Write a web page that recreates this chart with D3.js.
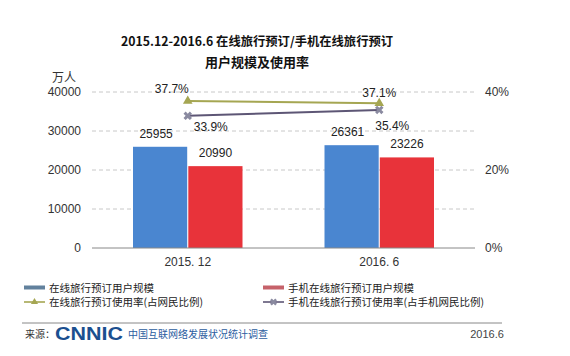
<!DOCTYPE html>
<html><head><meta charset="utf-8">
<script src="https://cdn.jsdelivr.net/npm/d3@7/dist/d3.min.js"></script>
<style>body{margin:0;background:#fff}svg{display:block}</style>
</head><body>
<script>
const categories = ["2015. 12", "2016. 6"];
const onlineUsers = [25955, 26361];
const mobileUsers = [20990, 23226];
const onlineRate = [37.7, 37.1];
const mobileRate = [33.9, 35.4];
const leftTicks = [0, 10000, 20000, 30000, 40000];
const rightTicks = [0, 20, 40];
const seriesNames = ["在线旅行预订用户规模", "手机在线旅行预订用户规模", "在线旅行预订使用率(占网民比例)", "手机在线旅行预订使用率(占手机网民比例)"];

const W = 570, H = 356;
const svg = d3.select("body").append("svg").attr("width", W).attr("height", H);
const font = "'Liberation Sans', Arial, sans-serif";
const cjk = "'Noto Sans CJK SC', sans-serif";

const x0 = 92, x1 = 475, yTop = 92, yBot = 248;
const x = d3.scaleBand().domain(categories).range([x0, x1]);
const xs = d3.scaleBand().domain([0, 1]).range([41, 150.5]).paddingInner(0.02);
const y = d3.scaleLinear().domain([0, 40000]).range([yBot, yTop]);
const yr = d3.scaleLinear().domain([0, 40]).range([yBot, yTop]);

// title
svg.append("text").attr("x", 257).attr("y", 46).attr("text-anchor", "middle")
  .attr("font-family", cjk).attr("font-weight", "bold").attr("font-size", 12.3).attr("fill", "#111")
  .text("2015.12-2016.6 在线旅行预订/手机在线旅行预订");
svg.append("text").attr("x", 257).attr("y", 67).attr("text-anchor", "middle")
  .attr("font-family", cjk).attr("font-weight", "bold").attr("font-size", 13).attr("fill", "#111")
  .text("用户规模及使用率");

// grid
svg.append("g").selectAll("line").data(leftTicks.filter(d => d > 0)).join("line")
  .attr("x1", x0).attr("x2", x1).attr("y1", d => y(d)).attr("y2", d => y(d))
  .attr("stroke", "#c8c8c8").attr("stroke-dasharray", "4,3");

// left axis
const la = svg.append("g").attr("transform", `translate(${x0},0)`)
  .call(d3.axisLeft(y).tickValues(leftTicks).tickSize(0).tickPadding(11).tickFormat(d3.format("d")));
la.select(".domain").remove();
la.selectAll("text").attr("font-family", font).attr("font-size", 12).attr("fill", "#333");
svg.append("text").attr("x", 64).attr("y", 82).attr("text-anchor", "middle")
  .attr("font-family", cjk).attr("font-size", 12).attr("fill", "#333").text("万人");

// right axis
const ra = svg.append("g").attr("transform", `translate(${x1},0)`)
  .call(d3.axisRight(yr).tickValues(rightTicks).tickSize(0).tickPadding(10).tickFormat(d => d + "%"));
ra.select(".domain").remove();
ra.selectAll("text").attr("font-family", font).attr("font-size", 12).attr("fill", "#333");

// bars
const series = [
  {vals: onlineUsers, color: "#4a86d0"},
  {vals: mobileUsers, color: "#e8333a"}
];
series.forEach((s, si) => {
  const g = svg.append("g");
  g.selectAll("rect").data(categories).join("rect")
    .attr("x", (c) => x(c) + xs(si)).attr("width", xs.bandwidth())
    .attr("y", (c, i) => y(s.vals[i])).attr("height", (c, i) => yBot - y(s.vals[i]))
    .attr("fill", s.color);
  g.selectAll("text").data(categories).join("text")
    .attr("x", (c) => x(c) + xs(si) + xs.bandwidth() / 2 + (si === 0 ? -4 : 0))
    .attr("y", (c, i) => y(s.vals[i]) - 9)
    .attr("text-anchor", "middle").attr("font-family", font).attr("font-size", 12).attr("fill", "#222")
    .text((c, i) => s.vals[i]);
});

// baseline
svg.append("line").attr("x1", x0).attr("x2", x1).attr("y1", yBot).attr("y2", yBot).attr("stroke", "#888");

// x labels
svg.append("g").selectAll("text").data(categories).join("text")
  .attr("x", c => x(c) + x.bandwidth() / 2).attr("y", 266).attr("text-anchor", "middle")
  .attr("font-family", font).attr("font-size", 12).attr("fill", "#333").text(c => c);

// lines
const cx = c => x(c) + x.bandwidth() / 2;
const lineGen = vals => d3.line().x(c => cx(c)).y((c, i) => yr(vals[i]))(categories);
svg.append("path").attr("d", lineGen(onlineRate)).attr("fill", "none").attr("stroke", "#a5a652").attr("stroke-width", 2);
svg.append("path").attr("d", lineGen(mobileRate)).attr("fill", "none").attr("stroke", "#5d5675").attr("stroke-width", 2);
const tri = d3.symbol().type(d3.symbolTriangle).size(40);
svg.append("g").selectAll("path").data(categories).join("path")
  .attr("transform", (c, i) => `translate(${cx(c)},${yr(onlineRate[i])})`).attr("d", tri()).attr("fill", "#a5a652");
svg.append("g").selectAll("path").data(categories).join("path")
  .attr("transform", (c, i) => `translate(${cx(c)},${yr(mobileRate[i])}) rotate(45)`)
  .attr("d", d3.symbol().type(d3.symbolCross).size(45)()).attr("fill", "#8a8aa0");

// rate labels
const rl = [
  {vals: onlineRate, dx: [-16, 0], dy: [-12, -10]},
  {vals: mobileRate, dx: [23, 13], dy: [11, 16]}
];
rl.forEach(r => {
  svg.append("g").selectAll("text").data(categories).join("text")
    .attr("x", (c, i) => cx(c) + r.dx[i]).attr("y", (c, i) => yr(r.vals[i]) + r.dy[i] + 4)
    .attr("text-anchor", "middle").attr("font-family", font).attr("font-size", 12).attr("fill", "#222")
    .text((c, i) => r.vals[i].toFixed(1) + "%");
});

// legend
const leg = [
  {x: 24, y: 287.5, color: "#62819d", type: "bar"},
  {x: 263, y: 287.5, color: "#c6626a", type: "bar"},
  {x: 24, y: 302, color: "#a5a652", type: "tri"},
  {x: 263, y: 302, color: "#5d5675", type: "x"}
];
leg.forEach((l, i) => {
  if (l.type === "bar") {
    svg.append("rect").attr("x", l.x).attr("y", l.y - 2).attr("width", 21).attr("height", 4).attr("fill", l.color);
  } else {
    svg.append("line").attr("x1", l.x).attr("x2", l.x + 21).attr("y1", l.y).attr("y2", l.y)
      .attr("stroke", l.color).attr("stroke-width", 1.6);
    if (l.type === "tri") svg.append("path").attr("transform", `translate(${l.x + 10.5},${l.y})`)
      .attr("d", d3.symbol().type(d3.symbolTriangle).size(22)()).attr("fill", l.color);
    else svg.append("path").attr("transform", `translate(${l.x + 10.5},${l.y}) rotate(45)`)
      .attr("d", d3.symbol().type(d3.symbolCross).size(30)()).attr("fill", "#8a8aa0");
  }
  svg.append("text").attr("x", l.x + 25).attr("y", l.y + 4).attr("font-family", cjk)
    .attr("font-size", 10.5).attr("fill", "#222").text(seriesNames[i]);
});

// footer
svg.append("line").attr("x1", 22).attr("x2", 502).attr("y1", 323).attr("y2", 323).attr("stroke", "#888");
svg.append("text").attr("x", 25).attr("y", 338).attr("font-family", cjk).attr("font-size", 10).attr("fill", "#333").text("来源：");
svg.append("text").attr("x", 55).attr("y", 340).attr("font-family", font).attr("font-weight", "bold")
  .attr("font-size", 19).attr("fill", "#1b4f8f").attr("textLength", 68).attr("lengthAdjust", "spacingAndGlyphs").text("CNNIC");
svg.append("text").attr("x", 128).attr("y", 338).attr("font-family", cjk).attr("font-size", 10)
  .attr("fill", "#2c5da0").text("中国互联网络发展状况统计调查");
svg.append("text").attr("x", 487).attr("y", 338).attr("text-anchor", "middle").attr("font-family", font)
  .attr("font-size", 11).attr("fill", "#444").text("2016.6");
</script>
</body></html>
